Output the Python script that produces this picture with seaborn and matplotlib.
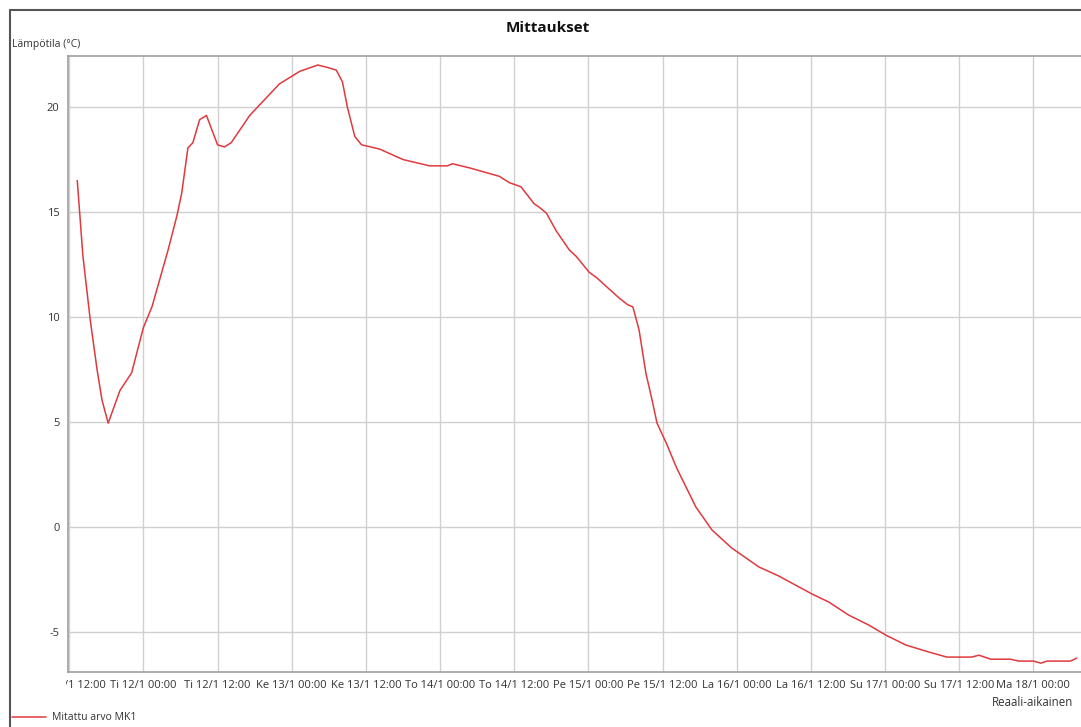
import matplotlib
matplotlib.use("Agg")
import matplotlib.pyplot as plt
from matplotlib.lines import Line2D
from matplotlib.transforms import Bbox, TransformedBbox
import seaborn as sns
import pandas as pd

# ---- data (hours after 12/1/2021 00:00, temperature °C) ----
hours = [-10.7, -9.8, -8.6, -7.5, -6.7, -5.7, -3.8, -1.9, 0.0, 1.4, 4.0, 5.4, 6.2, 7.2,
         8.0, 9.1, 10.2, 12.0, 13.1, 14.2, 17.2, 22.0, 25.3, 28.2, 29.6, 31.2, 32.2,
         33.0, 34.2, 35.3, 38.2, 42.0, 46.3, 49.2, 50.0, 52.8, 57.6, 59.2, 61.1, 63.2,
         64.0, 65.2, 66.8, 68.9, 70.0, 72.1, 73.4, 75.0, 77.0, 78.3, 79.2, 80.2, 81.3,
         82.3, 83.1, 84.6, 86.3, 89.4, 92.0, 95.2, 99.6, 102.8, 108.2, 110.9, 114.1,
         117.4, 120.1, 123.4, 127.1, 130.0, 134.0, 135.2, 137.1, 140.3, 141.6, 144.0,
         145.2, 146.2, 150.0, 151.0]
temps = [16.5, 12.95, 9.86, 7.5, 6.05, 4.95, 6.5, 7.35, 9.5, 10.5, 13.2, 14.8, 15.9, 18.05,
         18.3, 19.4, 19.6, 18.2, 18.1, 18.3, 19.6, 21.1, 21.7, 22.0, 21.9, 21.76, 21.2,
         20.0, 18.6, 18.2, 18.0, 17.5, 17.2, 17.2, 17.3, 17.1, 16.7, 16.4, 16.2, 15.4,
         15.24, 14.95, 14.1, 13.2, 12.9, 12.14, 11.86, 11.43, 10.9, 10.6, 10.48, 9.38, 7.33,
         6.05, 4.95, 4.0, 2.8, 0.95, -0.14, -1.0, -1.9, -2.33, -3.19, -3.57, -4.19,
         -4.67, -5.14, -5.62, -5.95, -6.19, -6.19, -6.1, -6.29, -6.29, -6.38, -6.38,
         -6.48, -6.38, -6.38, -6.24]

tick_hours = [-12, 0, 12, 24, 36, 48, 60, 72, 84, 96, 108, 120, 132, 144]
tick_labels = ["Ma 11/1 12:00", "Ti 12/1 00:00", "Ti 12/1 12:00", "Ke 13/1 00:00",
               "Ke 13/1 12:00", "To 14/1 00:00", "To 14/1 12:00", "Pe 15/1 00:00",
               "Pe 15/1 12:00", "La 16/1 00:00", "La 16/1 12:00", "Su 17/1 00:00",
               "Su 17/1 12:00", "Ma 18/1 00:00"]
y_ticks = [-5, 0, 5, 10, 15, 20]

base = pd.Timestamp("2021-01-12 00:00")
df = pd.DataFrame({
    "aika": base + pd.to_timedelta(hours, unit="h"),
    "lampotila": temps,
})

sns.set_style("white")
plt.rcParams["font.family"] = ["Open Sans", "DejaVu Sans"]
plt.rcParams["axes.unicode_minus"] = False

W, H = 1081, 727
fig = plt.figure(figsize=(W / 100, H / 100), dpi=100)
ax = fig.add_axes([68 / W, 1 - 672 / H, (W - 68) / W + 0.01, (672 - 56) / H])

sns.lineplot(data=df, x="aika", y="lampotila", ax=ax, color="#e0393e", linewidth=1.1)

ax.set_xlim(base + pd.Timedelta(hours=-12.2), base + pd.Timedelta(hours=151.45 + 2))
ax.set_ylim(-6.9, 22.43)
ax.set_xticks([base + pd.Timedelta(hours=h) for h in tick_hours])
ax.set_xticklabels(tick_labels)
ax.set_yticks(y_ticks)
ax.tick_params(axis="both", length=0, labelsize=8, colors="#333333", pad=6)
ax.grid(True, color="#d0d0d0", linewidth=1.0)
ax.set_xlabel("")
ax.set_ylabel("")
for s in ["left", "bottom", "top"]:
    ax.spines[s].set_color("#a0a0a0")
    ax.spines[s].set_linewidth(1.2)
ax.spines["right"].set_visible(False)

clip = TransformedBbox(Bbox([[66 / W, 0], [1, 1]]), fig.transFigure)
for lbl in ax.get_xticklabels():
    lbl.set_clip_box(clip)
    lbl.set_clip_on(True)

fig.text(548 / W, 1 - 28 / H, "Mittaukset", ha="center", va="center",
         fontsize=11, fontweight="bold", color="#111111")
fig.text(12 / W, 1 - 45 / H, "Lämpötila (°C)", ha="left", va="center",
         fontsize=7.5, color="#333333")
fig.text(992 / W, 1 - 703 / H, "Reaali-aikainen", ha="left", va="center",
         fontsize=8.3, color="#333333")

fig.add_artist(Line2D([12 / W, 46 / W], [1 - 717 / H, 1 - 717 / H],
                      transform=fig.transFigure, color="#e0393e", linewidth=1.1))
fig.text(52 / W, 1 - 717 / H, "Mitattu arvo MK1", ha="left", va="center",
         fontsize=7.5, color="#333333")

# outer frame
fig.add_artist(Line2D([10 / W, 10 / W], [0, 1 - 10 / H], transform=fig.transFigure,
                      color="#555555", linewidth=1.5))
fig.add_artist(Line2D([10 / W, 1], [1 - 10 / H, 1 - 10 / H], transform=fig.transFigure,
                      color="#555555", linewidth=1.5))

fig.savefig("out.png", dpi=100)
